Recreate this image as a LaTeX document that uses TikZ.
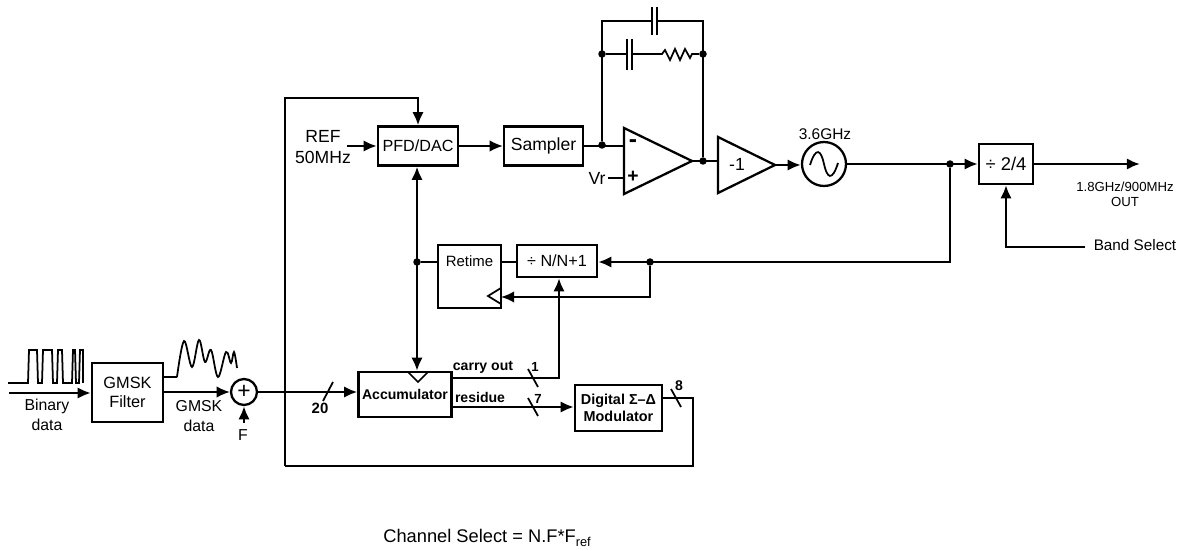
\documentclass[tikz,border=0pt]{standalone}
\usepackage{fontspec}
\setmainfont{Liberation Sans}
\usetikzlibrary{arrows.meta}
\tikzset{
  >={Latex[length=7.5pt,width=6.5pt]},
  blockbox/.style={draw,line width=1.3pt,align=center,inner sep=0pt,font=\fontsize{10}{10}\selectfont},
  wire/.style={line width=1pt},
  heavy/.style={line width=1.5pt},
  dotmark/.style={circle,fill,inner sep=0pt,minimum size=0.15cm},
  lab/.style={inner sep=0pt,align=center,font=\fontsize{9}{10.5}\selectfont},
  smalllab/.style={inner sep=0pt,align=center,font=\fontsize{7.5}{8.5}\selectfont},
  plate/.style={line width=1.2pt}
}
\begin{document}
\begin{tikzpicture}[x=0.02cm,y=-0.02cm]
  \useasboundingbox (0,0) rectangle (1180,550);
  % blocks
  \node[blockbox,minimum width=1.42cm,minimum height=1.18cm,font=\fontsize{9.3}{11}\selectfont] (gmsk) at (127.5,392.5) {GMSK\\Filter};
  \node[blockbox,circle,minimum size=0.52cm,font=\fontsize{13}{13}\selectfont] (sum) at (244,392) {+};
  \node[blockbox,minimum width=1.86cm,minimum height=0.9cm,font=\fontsize{8}{8}\selectfont\bfseries] (accu) at (405,394.5) {Accumulator};
  \node[blockbox,minimum width=1.6cm,minimum height=0.78cm,font=\fontsize{9.2}{9.2}\selectfont] (pfd) at (418,146) {PFD/DAC};
  \node[blockbox,minimum width=1.58cm,minimum height=0.78cm] (sampler) at (543.5,146) {Sampler};
  \node[blockbox,minimum width=1.26cm,minimum height=1.26cm,text depth=0.62cm] (retime) at (469.5,276.5) {\fontsize{8.5}{8.5}\selectfont Retime};
  \node[blockbox,minimum width=1.6cm,minimum height=0.64cm,font=\fontsize{9.2}{9.2}\selectfont] (divn) at (557,261) {÷ N/N+1};
  \node[blockbox,minimum width=1.74cm,minimum height=0.92cm,font=\fontsize{8.2}{9.5}\selectfont\bfseries] (modu) at (618.5,408) {Digital Σ–Δ\\Modulator};
  \node[blockbox,minimum width=1.08cm,minimum height=0.8cm,font=\fontsize{10.5}{10.5}\selectfont] (div24) at (1006,164) {÷ 2/4};
  \node[blockbox,circle,minimum size=0.88cm] (vco) at (824,164) {};
  \draw[wire] (810,165) .. controls (816,146) and (821,150) .. (824,164) .. controls (827,178) and (832,182) .. (838,163);
  % amplifiers
  \draw[blockbox] (624,128) coordinate (opin) -- (692,161) coordinate (opout) -- (624,194) -- cycle;
  \draw[blockbox] (718,137) coordinate (invin) -- (775,165) coordinate (invout) -- (718,193) -- cycle;
  \node[lab,font=\fontsize{10}{10}\selectfont] (inv) at (737,164) {-1};
  \node[inner sep=0pt,font=\fontsize{14}{14}\selectfont\bfseries] (minus) at (633,144) {-};
  \node[inner sep=0pt,font=\fontsize{11}{11}\selectfont\bfseries] (plus) at (633,177) {+};
  % clock marks
  \draw[wire] (501,288) coordinate (ckt) -- (488,296) -- (501,304);
  \draw[wire] (408,372) -- (418,382) -- (428,372);
  % junctions
  \coordinate (jtop) at (602,21);
  \coordinate (jtopr) at (703,21);
  \node[dotmark] (jsamp) at (602,145) {};
  \node[dotmark] (jrcl) at (602,54) {};
  \node[dotmark] (jrcr) at (703,54) {};
  \node[dotmark] (jout) at (703,161) {};
  \node[dotmark] (jret) at (417,262) {};
  \node[dotmark] (jfb) at (650,262) {};
  \node[dotmark] (jvco) at (950,164) {};
  \coordinate (busa) at (285,98);
  \coordinate (busb) at (285,466);
  \coordinate (busc) at (693,466);
  % input side
  \coordinate (binin) at (9,393);
  \draw[->,heavy] (binin) -- (gmsk.west |- binin);
  \draw[->,wire] (gmsk.east |- sum) -- (sum.west);
  \coordinate (fin) at (244,423);
  \draw[->,heavy] (fin) -- (sum.south);
  \draw[->,heavy] (sum.east) -- (accu.west |- sum);
  % bus back to the PFD
  \draw[->,heavy] (busb) -- (busa) -| (pfd.north);
  \draw[heavy] (modu.east |- 0,398) -| (busc) -- (busb);
  \coordinate (refin) at (347,146);
  \draw[->,heavy] (refin) -- (pfd.west);
  \draw[<->,heavy] (pfd.south -| jret) -- (accu.north -| jret);
  \draw[wire] (jret) -- (retime.west |- jret);
  \draw[wire] (retime.east |- jret) -- (divn.west |- jret);
  % loop
  \draw[->,wire] (pfd.east) -- (sampler.west);
  \draw[wire] (sampler.east) -- (opin |- sampler);
  \draw[heavy] (jsamp) -- (jtop) -- (652,21) coordinate (ca);
  \draw[plate,line width=1.5pt] (652,7) -- (652,35) (657,7) -- (657,35);
  \draw[heavy] (657,21) -- (jtopr) -- (jout);
  \draw[wire] (jrcl) -- (627,54);
  \draw[plate] (627,39) -- (627,70) (632,39) -- (632,70);
  \draw[wire] (632,54) -- (662,54) -- (665,50) -- (670,60) -- (675,49) -- (680,60) -- (685,49) -- (690,58) -- (692,54) -- (jrcr);
  \draw[wire] (opout) -- (invin |- opout);
  \coordinate (vrin) at (608,178);
  \draw[heavy] (vrin) -- (opin |- vrin);
  \draw[->,heavy] (invout) -- (vco.west |- invout);
  \draw[->,heavy] (vco.east) -- (div24.west);
  \draw[->,heavy] (div24.east) -- (1140,164) coordinate (outp);
  \draw[->,heavy] (jvco) |- (divn.east |- jfb);
  \draw[->,wire] (jfb) |- (ckt |- 0,297);
  \coordinate (bandin) at (1085,247);
  \draw[->,heavy] (bandin) -| (div24.south);
  % carry and residue
  \draw[->,heavy] (accu.east |- 0,378) -| (divn.south -| 559,0);
  \draw[->,heavy] (accu.east |- 0,407) -- (modu.west |- 0,407);
  \draw[wire] (323,401) -- (333,382);
  \foreach \x/\y in {533/378,533/407,676/398} \draw[wire] (\x-5,\y-9) -- (\x+5,\y+9);
  % waveforms
  \draw[wire] (8,383) -- (28,383) -- (29,350) -- (37,350) -- (38,383) -- (42,383) -- (43,350) -- (52,350) -- (53,383) -- (57,383) -- (58,350) -- (62,350) -- (63,383) -- (72,383) -- (73,350) -- (75,350) -- (76,383) -- (79,383) -- (80,350) -- (83,350) -- (83,383);
  \draw[wire] (163,377) -- (177,377) plot[smooth,tension=0.6] coordinates {(177,377) (184,341) (192,367) (199,340) (205,362) (211,350) (218,377) (226,352) (231,363) (234,352) (237,368)};
  % labels
  \node[lab] (binlab) at (47,415) {Binary\\[1pt]data};
  \node[lab] (gmsklab) at (199,416) {GMSK\\[1pt]data};
  \node[lab] (flab) at (243,435) {F};
  \node[smalllab,font=\fontsize{8.5}{9}\selectfont\bfseries] (lab20) at (320,408) {20};
  \node[lab,font=\fontsize{10}{12}\selectfont] (reflab) at (323,147) {REF\\50MHz};
  \node[lab,font=\fontsize{10}{10}\selectfont] (vrlab) at (597,178) {Vr};
  \node[lab,font=\fontsize{8.8}{10}\selectfont] (freqlab) at (825,134) {3.6GHz};
  \node[smalllab] (outlab) at (1125,194) {1.8GHz/900MHz\\OUT};
  \node[lab,font=\fontsize{8.7}{10}\selectfont] (bandlab) at (1135,245) {Band Select};
  \node[smalllab,font=\fontsize{8}{9}\selectfont\bfseries] (carrylab) at (483,367) {carry out};
  \node[smalllab,font=\fontsize{8}{9}\selectfont\bfseries] (reslab) at (480,397) {residue};
  \node[smalllab,font=\fontsize{7.5}{8.5}\selectfont\bfseries] (lab1) at (535,367) {1};
  \node[smalllab,font=\fontsize{7.5}{8.5}\selectfont\bfseries] (lab7) at (538,399) {7};
  \node[smalllab,font=\fontsize{8}{8.5}\selectfont\bfseries] (lab8) at (679,386) {8};
  \node[lab,anchor=west,font=\fontsize{10.4}{12}\selectfont] (chanlab) at (383,538) {Channel Select = N.F*F\textsubscript{ref}};
\end{tikzpicture}
\end{document}
